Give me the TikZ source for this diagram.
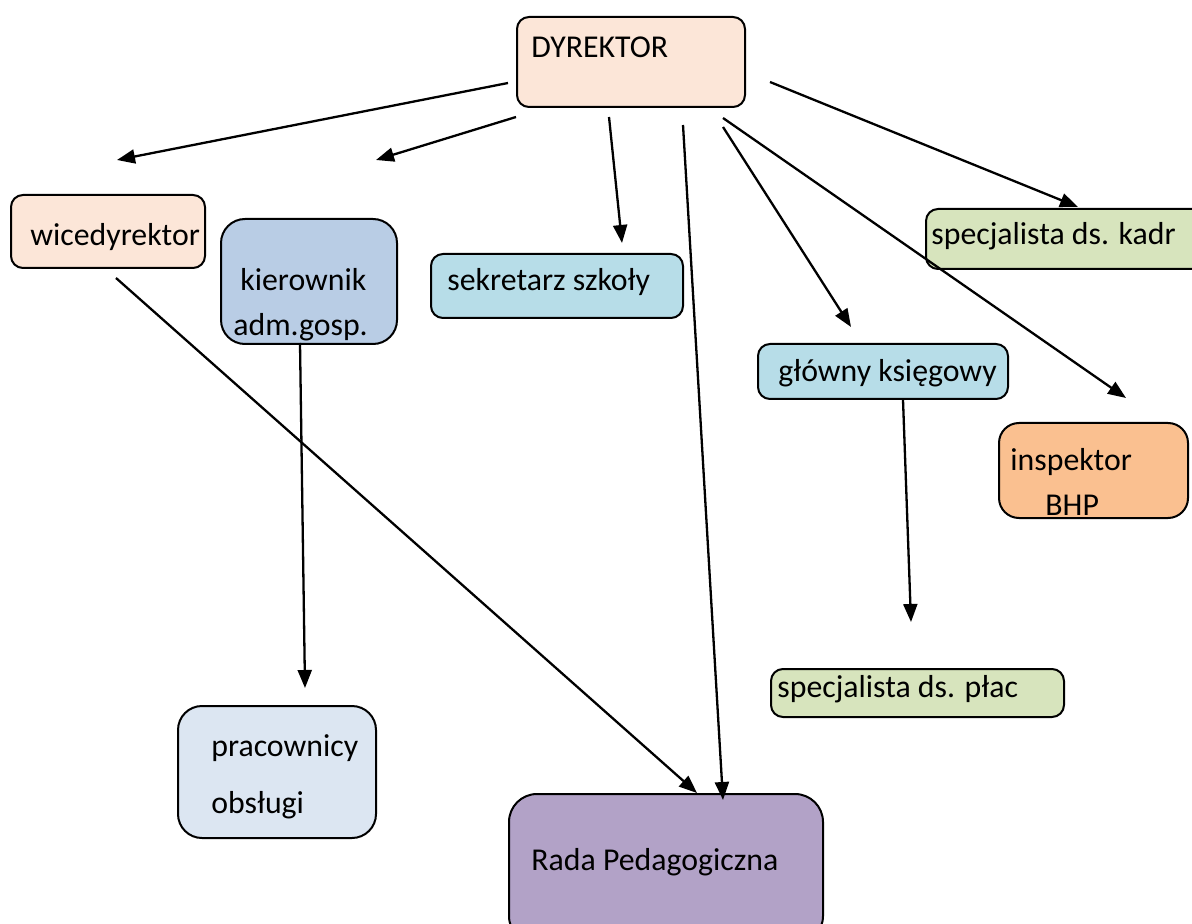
\documentclass[tikz,border=0pt]{standalone}
\usepackage{fontspec}
\setmainfont{Carlito}
\usetikzlibrary{arrows.meta}
\definecolor{peach}{HTML}{FCE6D8}
\definecolor{steel}{HTML}{B9CDE5}
\definecolor{aqua}{HTML}{B7DDE8}
\definecolor{olive}{HTML}{D7E4BD}
\definecolor{apricot}{HTML}{FAC090}
\definecolor{pale}{HTML}{DCE6F2}
\definecolor{lilac}{HTML}{B2A2C7}

\begin{document}
\begin{tikzpicture}[x=0.5pt,y=-0.5pt,
  box/.style={draw, line width=1pt, rounded corners=6pt, anchor=north west, inner sep=0pt},
  txt/.style={anchor=base west, inner sep=0pt, font=\fontsize{15.9}{18}\selectfont},
  arr/.style={line width=1.15pt, -{Triangle[length=9pt,width=7pt]}}]
\clip (0,0) rectangle (1192,924);
\node[box, fill=peach, minimum width=114pt, minimum height=45pt] (dyr) at (516,16) {};
\node[box, fill=peach, minimum width=97pt, minimum height=36.5pt] (wice) at (10,194) {};
\node[box, fill=steel, rounded corners=12pt, minimum width=88pt, minimum height=62.5pt] (kier) at (220,218) {};
\node[box, fill=aqua, minimum width=126pt, minimum height=32pt] (sekr) at (430,253) {};
\node[box, fill=olive, minimum width=140pt, minimum height=30pt] (kadr) at (925,208) {};
\node[box, fill=aqua, minimum width=125pt, minimum height=27.5pt] (ksieg) at (757,343) {};
\node[box, fill=apricot, rounded corners=10pt, minimum width=94.5pt, minimum height=47.5pt] (bhp) at (998,422) {};
\node[box, fill=olive, minimum width=146.5pt, minimum height=24pt] (plac) at (770,668) {};
\node[box, fill=pale, rounded corners=12pt, minimum width=99pt, minimum height=66pt] (prac) at (177,705) {};
\node[box, fill=lilac, rounded corners=14pt, minimum width=157pt, minimum height=75pt] (rada) at (508,793) {};

\node[txt] (dyrt) at (531,58) {DYREKTOR};
\node[txt] (wicet) at (30,246) {wicedyrektor};
\node[txt] (kiert) at (240,291) {kierownik};
\node[txt] (kiert2) at (233,336) {adm.gosp.};
\node[txt] (sekrt) at (447,291) {sekretarz szkoły};
\node[txt] (kadrt) at (931,245) {specjalista ds. kadr};
\node[txt] (ksiegt) at (778,382) {główny księgowy};
\node[txt] (bhpt) at (1010,470) {inspektor};
\node[txt] (bhpt2) at (1045,515) {BHP};
\node[txt] (plact) at (777,697) {specjalista ds. płac};
\node[txt] (pract) at (211,756) {pracownicy};
\node[txt] (pract2) at (211,813) {obsługi};
\node[txt] (radat) at (531,870) {Rada Pedagogiczna};

\coordinate (d1) at (508,83);   \coordinate (e1) at (117,160);
\coordinate (d2) at (516,117);  \coordinate (e2) at (376,160);
\coordinate (d3) at (609,117);  \coordinate (e3) at (622,243);
\coordinate (d4) at (683,125);  \coordinate (e4) at (723,800);
\coordinate (d5) at (723,127);  \coordinate (e5) at (851,327);
\coordinate (d6) at (723,118);  \coordinate (e6) at (1126,398);
\coordinate (d7) at (770,82);   \coordinate (e7) at (1078,207);
\coordinate (w1) at (116,278);  \coordinate (r1) at (697,793);
\coordinate (k1) at (300,343);  \coordinate (p1) at (305,688);
\coordinate (g1) at (903,400);  \coordinate (s1) at (911,622);
\foreach \a/\b in {d1/e1,d2/e2,d3/e3,d4/e4,d5/e5,d6/e6,d7/e7,w1/r1,k1/p1,g1/s1}
  \draw[arr] (\a) -- (\b);
\end{tikzpicture}
\end{document}
